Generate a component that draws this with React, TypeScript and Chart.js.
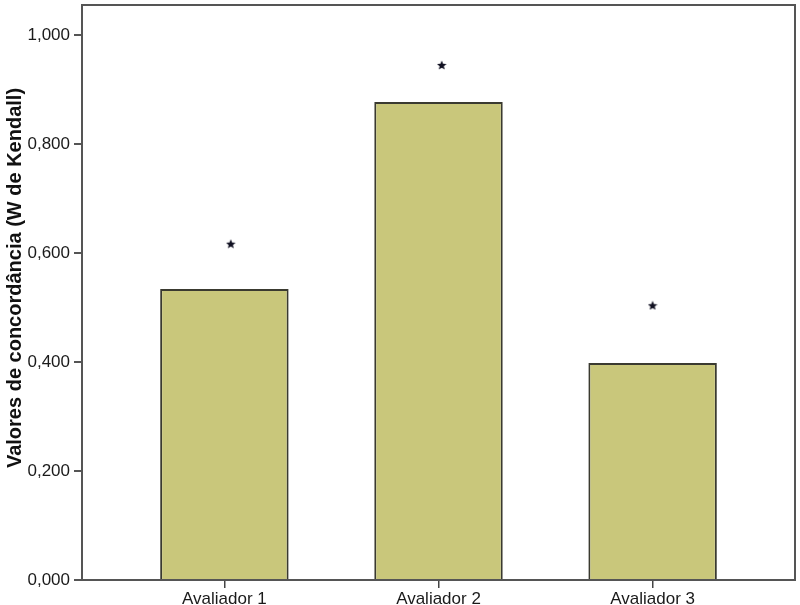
import React, { useEffect, useRef } from "react";
import { Chart, registerables } from "chart.js";

Chart.register(...registerables);

const categories = ["Avaliador 1", "Avaliador 2", "Avaliador 3"];
const kendallW = [0.534, 0.877, 0.398];
const markerValues = [0.617, 0.945, 0.504];
const markerX = [0.03, 0.015, 0.0];
const yTicks = [0, 0.2, 0.4, 0.6, 0.8, 1.0];
const yTitle = "Valores de concordância (W de Kendall)";

function makeStar(size: number, color: string): HTMLCanvasElement {
  const c = document.createElement("canvas");
  c.width = size;
  c.height = size;
  const ctx = c.getContext("2d")!;
  const cx = size / 2, cy = size / 2 + 0.5;
  const R = size / 2, r = R * 0.45;
  ctx.beginPath();
  for (let i = 0; i < 10; i++) {
    const rad = i % 2 === 0 ? R : r;
    const a = -Math.PI / 2 + (i * Math.PI) / 5;
    const x = cx + rad * Math.cos(a);
    const y = cy + rad * Math.sin(a);
    if (i === 0) ctx.moveTo(x, y);
    else ctx.lineTo(x, y);
  }
  ctx.closePath();
  ctx.fillStyle = color;
  ctx.fill();
  return c;
}

const FONT = "Liberation Sans, Arial, sans-serif";

const frame = {
  id: "frame",
  afterDatasetsDraw(chart: any) {
    const { ctx, chartArea } = chart;
    ctx.save();
    ctx.strokeStyle = "#555";
    ctx.lineWidth = 2;
    ctx.strokeRect(chartArea.left, chartArea.top, chartArea.right - chartArea.left, chartArea.bottom - chartArea.top);
    ctx.restore();
  },
};

const yTitlePlugin = {
  id: "yTitlePlugin",
  afterDraw(chart: any) {
    const { ctx } = chart;
    ctx.save();
    ctx.translate(15, 278);
    ctx.rotate(-Math.PI / 2);
    ctx.font = `bold 20px ${FONT}`;
    ctx.fillStyle = "#111";
    ctx.textAlign = "center";
    ctx.textBaseline = "middle";
    ctx.fillText(yTitle, 0, 0);
    ctx.restore();
  },
};

export default function App() {
  const ref = useRef<HTMLCanvasElement>(null);
  useEffect(() => {
    const star = makeStar(10, "#111122");
    const chart = new Chart(ref.current!, {
      type: "bar",
      data: {
        datasets: [
          {
            type: "bar",
            data: kendallW.map((v, i) => ({ x: i, y: v })),
            backgroundColor: "#C9C77B",
            borderColor: "#3a3a30",
            borderWidth: 2,
            barPercentage: 0.6,
            categoryPercentage: 1,
            order: 2,
          },
          {
            type: "scatter",
            data: markerValues.map((v, i) => ({ x: i + markerX[i], y: v })),
            pointStyle: star,
            order: 1,
          } as any,
        ],
      },
      options: {
        animation: false,
        responsive: false,
        maintainAspectRatio: false,
        layout: { padding: { top: 3, right: 5, bottom: 0, left: 0 } },
        plugins: { legend: { display: false }, tooltip: { enabled: false } },
        scales: {
          x: {
            type: "linear",
            offset: false,
            min: -0.665,
            max: 2.665,
            afterBuildTicks: (axis: any) => {
              axis.ticks = categories.map((_, i) => ({ value: i }));
            },
            afterFit: (axis: any) => {
              axis.height = 25;
              axis.paddingLeft = 0;
              axis.paddingRight = 0;
            },
            grid: { offset: false, drawOnChartArea: false, drawTicks: true, tickLength: 8, color: "#444", lineWidth: 1.5 },
            border: { display: true, color: "#555", width: 2 },
            ticks: {
              padding: 1,
              color: "#1a1a1a",
              font: { family: FONT, size: 17 },
              callback: (v: any) => categories[Math.round(Number(v))] ?? "",
              maxRotation: 0,
            },
          },
          y: {
            min: 0,
            max: 1.055,
            afterBuildTicks: (axis: any) => {
              axis.ticks = yTicks.map((v) => ({ value: v }));
            },
            afterFit: (axis: any) => {
              axis.width = 82;
              axis.paddingTop = 0;
              axis.paddingBottom = 0;
            },
            grid: { drawOnChartArea: false, drawTicks: true, tickLength: 8, color: "#555", lineWidth: 2 },
            border: { display: true, color: "#555", width: 2 },
            ticks: {
              padding: 4,
              color: "#1a1a1a",
              font: { family: FONT, size: 17 },
              callback: (v: any) => Number(v).toFixed(3).replace(".", ","),
            },
            title: { display: false },
          },
        },
      },
      plugins: [frame, yTitlePlugin],
    });
    return () => chart.destroy();
  }, []);
  return (
    <div style={{ position: "absolute", left: 0, top: 0, width: 800, height: 605, background: "#fff" }}>
      <canvas ref={ref} width={800} height={605} style={{ width: 800, height: 605 }} />
    </div>
  );
}
